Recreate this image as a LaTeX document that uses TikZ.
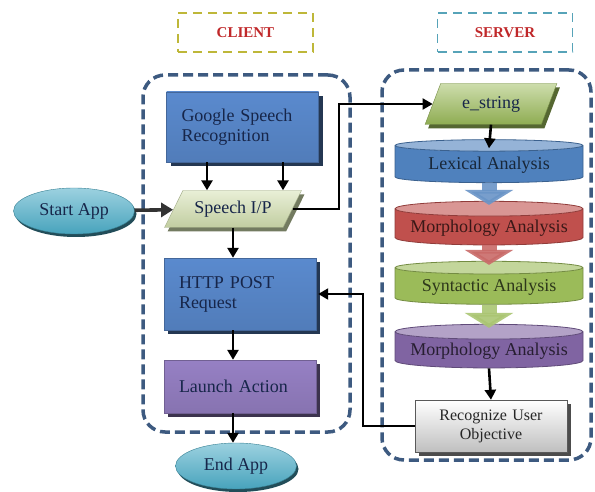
\documentclass[tikz,border=0pt]{standalone}
\usepackage{fontspec}
\setmainfont{Liberation Serif}
\usetikzlibrary{arrows.meta,positioning,shapes.geometric,shadows}
\definecolor{navytxt}{HTML}{17264A}
\definecolor{regionline}{HTML}{3D5A80}
\definecolor{tagred}{HTML}{C0282A}
\definecolor{boxblue}{HTML}{5A8ACE}
\definecolor{boxbluelt}{HTML}{90B2E3}
\definecolor{boxpurple}{HTML}{9680C4}
\definecolor{boxpurplelt}{HTML}{C4B3E4}
\definecolor{iogreen}{HTML}{D2DFAE}
\definecolor{esgreen}{HTML}{9BBB59}
\definecolor{teal}{HTML}{4BACC6}
\definecolor{drumblue}{HTML}{4F81BD}
\definecolor{drumred}{HTML}{C0504D}
\definecolor{drumgreen}{HTML}{9BBB59}
\definecolor{drumpurple}{HTML}{8064A2}
\tikzset{
    %Define standard arrow tip
    >={Triangle[width=11pt,length=10pt]},
    %Define style for the two group outlines
    region/.style={
      rectangle,
      rounded corners=22pt,
      draw=regionline,
      line width=3.5pt,
      dash pattern=on 10pt off 5pt},
    %Define style for the CLIENT / SERVER tags
    tag/.style={
      rectangle,
      line width=1.6pt,
      dash pattern=on 9pt off 6pt,
      minimum width=135pt,
      minimum height=39pt,
      text=tagred,
      font=\fontsize{15}{17}\selectfont\bfseries},
    %Define style for process boxes
    procbox/.style={
      rectangle,
      draw=#1!75!black, thin,
      top color=#1,
      middle color=#1lt,
      bottom color=#1!90!black,
      drop shadow={shadow xshift=4pt, shadow yshift=-4pt,
        fill=#1!40!black, opacity=1},
      text=navytxt,
      text width=122pt,
      align=left,
      minimum width=152pt,
      font=\fontsize{18}{20}\selectfont},
    %Define style for in/out boxes
    iobox/.style={
      trapezium,
      trapezium stretches=true,
      draw=#1!75!black, thin,
      top color=#1!50!white,
      bottom color=#1!92!black,
      drop shadow={shadow xshift=3pt, shadow yshift=-4pt,
        fill=#1!55!black, opacity=1},
      text=navytxt,
      font=\fontsize{18}{20}\selectfont},
    %Define style for start / end
    terminal/.style={
      ellipse,
      draw=teal!75!black, thin,
      top color=teal!55!white,
      bottom color=teal!95!black,
      drop shadow={shadow xshift=2pt, shadow yshift=-3pt,
        fill=teal!45!black, opacity=1},
      text=navytxt,
      minimum width=121pt,
      minimum height=46pt,
      font=\fontsize{18}{20}\selectfont},
    %Define style for the analysis drums
    drum/.style={
      cylinder,
      shape border rotate=90,
      aspect=0.09,
      cylinder uses custom fill,
      cylinder body fill=#1,
      cylinder end fill=#1!60!white,
      draw=#1!75!black, thick,
      text=#1!30!black,
      minimum width=188pt,
      minimum height=43pt,
      font=\fontsize{18}{20}\selectfont},
    % Define arrow style
    arr/.style={
      ->,
      line width=2.6pt},
    link/.style={
      ->,
      line width=2pt},
    % Define wide arrow between drums
    blockarr/.style={
      -{Triangle[width=48pt,length=15pt]},
      line width=15pt,
      draw=#1!85!white, opacity=0.9}
}
\newcommand{\drumtext}[1]{\raisebox{-7pt}{#1}}

\begin{document}
\begin{tikzpicture}[x=1pt, y=-1pt, node distance=20pt]
    \useasboundingbox (0,0) rectangle (595,492);
    % group outlines and tags
    \node[region, minimum width=207pt, minimum height=357pt] (client) at (246.5,253.5) {};
    \node[region, minimum width=209pt, minimum height=390pt] (server) at (486.5,265) {};
    \node[tag, draw=olive!40!yellow!70!gray] (clienttag) at (245.5,32.5) {CLIENT};
    \node[tag, draw=teal!80!gray] (servertag) at (505,32.5) {SERVER};
    % client side
    \node[procbox=boxblue, minimum height=70pt] (google) at (242.5,127) {Google Speech Recognition};
    \node[iobox=iogreen, trapezium left angle=56, trapezium right angle=124,
      minimum width=137pt, minimum height=37pt] (speechin) at (233,209) {Speech I/P};
    \node[terminal] (startapp) at (74,211) {Start App};
    \node[procbox=boxblue, minimum height=72pt] (httppost) at (240,294) {HTTP POST Request};
    \node[procbox=boxpurple, minimum height=53pt] (launch) at (240,386.5) {Launch Action};
    \node[terminal] (endapp) at (236,466) {End App};
    % server side
    \node[iobox=esgreen, trapezium left angle=66, trapezium right angle=114,
      minimum width=132pt, minimum height=41pt] (estring) at (491,104) {e\_string};
    \node[drum=drumblue] (lexical) at (489,165) {\drumtext{Lexical Analysis}};
    \node[drum=drumred] (morph) at (489,228) {\drumtext{Morphology Analysis}};
    \node[drum=drumgreen] (syntax) at (489,287) {\drumtext{Syntactic Analysis}};
    \node[drum=drumpurple] (morphb) at (489,351) {\drumtext{Morphology Analysis}};
    \node[rectangle, draw=black!65, top color=white, bottom color=black!25,
      drop shadow={shadow xshift=4pt, shadow yshift=-4pt, fill=black!70, opacity=1},
      text width=140pt, align=center, text=black!85,
      font=\fontsize{16}{19}\selectfont, minimum width=152pt,
      minimum height=52pt] (recognize) at (491,426) {Recognize User\\Objective};
    % connectors
    \draw[arr, line width=3.6pt, black!80, -{Triangle[width=14pt,length=12pt]}] (startapp) -- (speechin);
    \draw[arr] ([xshift=-35.5pt]google.south) -- ([xshift=-35.5pt]google.south |- speechin.north);
    \draw[arr] ([xshift=40.5pt]google.south) -- ([xshift=40.5pt]google.south |- speechin.north);
    \draw[arr] (speechin.south) -- (speechin.south |- httppost.north);
    \draw[arr] ([xshift=-7pt]httppost.south) -- ([xshift=-7pt]launch.north);
    \draw[arr] ([xshift=-7pt]launch.south) -- ([xshift=-3pt]endapp.north);
    \draw[link] (speechin.east) -- ++(46,0) |- (estring.west);
    \draw[arr] (estring.south) -- ([yshift=-9pt]lexical.north);
    \draw[blockarr=drumblue] (lexical.south) -- ([yshift=-4pt]morph.north);
    \draw[blockarr=drumred] (morph.south) -- ([yshift=-4pt]syntax.north);
    \draw[blockarr=drumgreen] (syntax.south) -- ([yshift=-4pt]morphb.north);
    \draw[arr] (morphb.south) -- (recognize.north);
    \draw[link] (recognize.west) -- ++(-52,0) |- ([xshift=2pt]httppost.east);
\end{tikzpicture}
\end{document}
